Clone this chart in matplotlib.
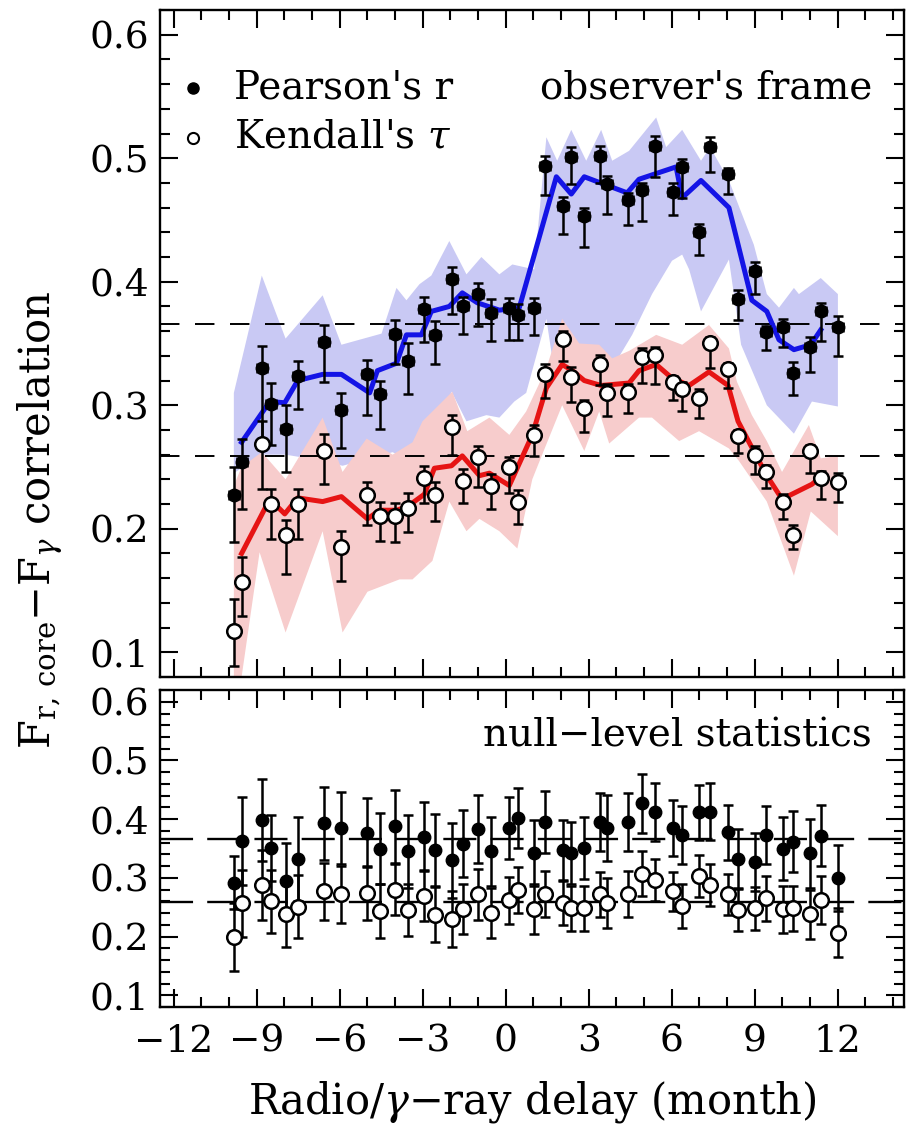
import numpy as np
import matplotlib
matplotlib.use('Agg')
import matplotlib.pyplot as plt
from matplotlib.ticker import MultipleLocator

plt.rcParams['font.family'] = ['DejaVu Serif']
plt.rcParams['mathtext.fontset'] = 'dejavuserif'

# delays (month), shared by both panels
delay = np.array([-9.83, -9.55, -8.82, -8.50, -7.96, -7.52, -6.58, -5.94, -5.00, -4.53,
                  -3.99, -3.55, -2.94, -2.54, -1.93, -1.53, -0.99, -0.52, 0.13, 0.45,
                  1.03, 1.43, 2.08, 2.37, 2.84, 3.42, 3.67, 4.43, 4.93, 5.40,
                  6.05, 6.38, 6.99, 7.39, 8.04, 8.40, 9.01, 9.41, 10.02, 10.38,
                  11.00, 11.39, 12.01])

# observer's frame, Pearson's r
pearson = np.array([0.227, 0.254, 0.330, 0.301, 0.281, 0.324, 0.351, 0.296, 0.325, 0.309,
                    0.358, 0.336, 0.378, 0.357, 0.402, 0.380, 0.390, 0.375, 0.379, 0.373,
                    0.379, 0.494, 0.461, 0.501, 0.453, 0.502, 0.479, 0.466, 0.474, 0.510,
                    0.473, 0.493, 0.440, 0.509, 0.487, 0.386, 0.409, 0.359, 0.363, 0.326,
                    0.347, 0.376, 0.363])
pearson_lo = np.array([0.038, 0.038, 0.062, 0.033, 0.035, 0.027, 0.032, 0.031, 0.033, 0.028,
                       0.025, 0.027, 0.027, 0.024, 0.028, 0.022, 0.026, 0.023, 0.026, 0.020,
                       0.022, 0.024, 0.022, 0.022, 0.025, 0.022, 0.024, 0.020, 0.025, 0.025,
                       0.019, 0.025, 0.018, 0.020, 0.016, 0.017, 0.019, 0.014, 0.016, 0.018,
                       0.020, 0.024, 0.023])
pearson_hi = np.array([0.023, 0.019, 0.018, 0.017, 0.019, 0.012, 0.014, 0.014, 0.012, 0.011,
                       0.011, 0.014, 0.010, 0.011, 0.010, 0.008, 0.009, 0.011, 0.008, 0.009,
                       0.008, 0.008, 0.008, 0.008, 0.007, 0.008, 0.007, 0.006, 0.006, 0.008,
                       0.007, 0.006, 0.007, 0.008, 0.005, 0.007, 0.007, 0.005, 0.007, 0.009,
                       0.008, 0.007, 0.009])

# observer's frame, Kendall's tau
kendall = np.array([0.117, 0.157, 0.269, 0.220, 0.195, 0.220, 0.263, 0.185, 0.227, 0.210,
                    0.210, 0.217, 0.241, 0.227, 0.282, 0.239, 0.258, 0.235, 0.250, 0.222,
                    0.276, 0.325, 0.354, 0.323, 0.298, 0.333, 0.310, 0.311, 0.339, 0.341,
                    0.319, 0.313, 0.306, 0.350, 0.329, 0.275, 0.260, 0.246, 0.222, 0.195,
                    0.263, 0.241, 0.238])
kendall_lo = np.array([0.028, 0.028, 0.037, 0.028, 0.032, 0.028, 0.027, 0.027, 0.024, 0.020,
                       0.021, 0.020, 0.020, 0.021, 0.022, 0.018, 0.024, 0.019, 0.021, 0.018,
                       0.017, 0.019, 0.018, 0.020, 0.020, 0.017, 0.019, 0.017, 0.021, 0.024,
                       0.015, 0.018, 0.016, 0.020, 0.015, 0.014, 0.016, 0.013, 0.014, 0.011,
                       0.018, 0.017, 0.016])
kendall_hi = np.array([0.026, 0.020, 0.018, 0.012, 0.012, 0.012, 0.014, 0.013, 0.011, 0.012,
                       0.011, 0.012, 0.010, 0.011, 0.010, 0.009, 0.009, 0.009, 0.008, 0.009,
                       0.008, 0.008, 0.006, 0.008, 0.006, 0.008, 0.007, 0.006, 0.007, 0.006,
                       0.005, 0.006, 0.007, 0.005, 0.005, 0.005, 0.007, 0.006, 0.006, 0.008,
                       0.005, 0.006, 0.007])

# running means
blue_x = [-9.55, -8.53, -7.99, -7.52, -6.62, -5.94, -4.92, -4.64, -3.95, -3.59, -3.05, -2.69,
          -2.04, -1.57, -1.03, -0.23, 0.49, 1.83, 2.37, 2.84, 3.67, 4.39, 4.82, 6.16, 6.38,
          7.06, 8.07, 8.90, 9.44, 9.88, 10.42, 11.03, 11.39]
blue_y = [0.270, 0.303, 0.302, 0.320, 0.325, 0.325, 0.310, 0.328, 0.334, 0.357, 0.357, 0.376,
          0.380, 0.391, 0.383, 0.377, 0.379, 0.485, 0.471, 0.485, 0.478, 0.472, 0.483, 0.493, 0.468,
          0.482, 0.460, 0.385, 0.376, 0.353, 0.345, 0.349, 0.361]
red_x = [-9.55, -8.53, -7.99, -7.52, -6.62, -5.94, -5.00, -4.56, -3.95, -3.55, -2.94, -2.58,
         -1.96, -1.57, -0.95, -0.59, 0.13, 0.96, 1.47, 2.04, 2.41, 2.84, 3.45, 4.46, 4.82,
         5.44, 6.01, 6.63, 7.35, 8.04, 8.40, 8.87, 9.44, 9.99, 11.07, 11.39]
red_y = [0.180, 0.224, 0.212, 0.225, 0.222, 0.226, 0.208, 0.215, 0.215, 0.218, 0.228, 0.249,
         0.251, 0.259, 0.243, 0.245, 0.235, 0.276, 0.314, 0.333, 0.328, 0.320, 0.316, 0.318, 0.328,
         0.333, 0.322, 0.316, 0.327, 0.316, 0.287, 0.267, 0.243, 0.224, 0.236, 0.242]

# spread bands
blue_up_x = [-9.83, -8.82, -7.96, -6.62, -5.94, -4.49, -3.95, -3.59, -3.12, -2.69, -2.04, -1.42,
             -0.88, -0.23, 0.24, 1.03, 1.47, 1.86, 2.37, 2.91, 3.45, 3.85, 4.46, 5.44, 5.80,
             6.38, 7.06, 7.39, 8.07, 8.97, 9.44, 9.88, 10.42, 10.60, 11.39, 12.01]
blue_up_y = [0.310, 0.405, 0.354, 0.389, 0.349, 0.358, 0.395, 0.385, 0.398, 0.405, 0.433, 0.406,
             0.420, 0.406, 0.414, 0.410, 0.517, 0.498, 0.523, 0.498, 0.523, 0.498, 0.506, 0.533, 0.509,
             0.523, 0.498, 0.509, 0.482, 0.430, 0.390, 0.379, 0.395, 0.390, 0.403, 0.390]
blue_lo_x = [-9.83, -8.82, -7.96, -6.62, -5.90, -4.09, -3.37, -2.94, -2.65, -1.96, -1.42, -0.70,
             -0.23, 0.31, 0.74, 1.47, 1.94, 2.37, 2.84, 3.45, 3.85, 4.57, 5.29, 6.01, 6.38,
             6.63, 7.06, 8.07, 8.51, 9.44, 10.42, 11.07, 12.01]
blue_lo_y = [0.245, 0.260, 0.260, 0.255, 0.251, 0.262, 0.254, 0.287, 0.267, 0.311, 0.287, 0.292,
             0.290, 0.303, 0.310, 0.370, 0.300, 0.340, 0.280, 0.310, 0.330, 0.357, 0.390, 0.417, 0.422,
             0.410, 0.376, 0.418, 0.349, 0.300, 0.277, 0.303, 0.299]
red_up_x = [-9.83, -9.55, -8.82, -7.96, -6.62, -5.90, -5.03, -4.09, -3.37, -3.01, -1.93, -1.39,
            -0.59, 0.13, 0.74, 1.47, 2.04, 2.66, 3.38, 3.85, 4.46, 5.44, 6.38, 7.35, 8.07,
            8.36, 8.90, 9.44, 9.99, 10.96, 11.39, 12.01]
red_up_y = [0.235, 0.250, 0.262, 0.240, 0.290, 0.246, 0.273, 0.260, 0.270, 0.287, 0.311, 0.279,
            0.290, 0.276, 0.295, 0.330, 0.370, 0.350, 0.349, 0.338, 0.344, 0.357, 0.349, 0.365, 0.346,
            0.319, 0.292, 0.271, 0.246, 0.284, 0.257, 0.259]
red_lo_x = [-9.83, -9.55, -8.90, -7.96, -6.62, -5.90, -5.00, -3.84, -3.37, -2.65, -2.04, -1.42,
            -0.95, -0.23, 0.42, 0.96, 1.21, 2.04, 2.84, 3.38, 3.74, 4.82, 5.29, 6.27, 6.99,
            8.07, 8.43, 9.44, 10.42, 11.03, 12.01]
red_lo_y = [0.070, 0.080, 0.181, 0.116, 0.198, 0.116, 0.149, 0.159, 0.159, 0.174, 0.222, 0.198,
            0.208, 0.198, 0.184, 0.240, 0.254, 0.300, 0.263, 0.295, 0.269, 0.290, 0.290, 0.271, 0.279,
            0.265, 0.255, 0.222, 0.162, 0.214, 0.194]

# null-level statistics
null_pearson = np.array([0.292, 0.363, 0.398, 0.351, 0.295, 0.332, 0.393, 0.385, 0.377, 0.350,
                         0.388, 0.345, 0.370, 0.348, 0.330, 0.358, 0.383, 0.345, 0.385, 0.402,
                         0.342, 0.395, 0.347, 0.343, 0.351, 0.395, 0.385, 0.395, 0.427, 0.412,
                         0.385, 0.373, 0.412, 0.413, 0.378, 0.333, 0.327, 0.373, 0.350, 0.362,
                         0.342, 0.372, 0.300])
null_pearson_err = np.array([0.045, 0.075, 0.070, 0.057, 0.064, 0.071, 0.062, 0.062, 0.059, 0.061,
                             0.062, 0.062, 0.059, 0.061, 0.064, 0.057, 0.058, 0.058, 0.053, 0.051,
                             0.056, 0.053, 0.051, 0.053, 0.053, 0.050, 0.056, 0.049, 0.050, 0.049,
                             0.047, 0.050, 0.047, 0.049, 0.047, 0.050, 0.050, 0.049, 0.053, 0.052,
                             0.059, 0.052, 0.056])
null_kendall = np.array([0.200, 0.257, 0.288, 0.260, 0.238, 0.251, 0.277, 0.272, 0.275, 0.243,
                         0.280, 0.245, 0.270, 0.237, 0.230, 0.247, 0.272, 0.240, 0.262, 0.280,
                         0.247, 0.273, 0.257, 0.248, 0.248, 0.272, 0.257, 0.272, 0.307, 0.297,
                         0.277, 0.252, 0.303, 0.288, 0.272, 0.245, 0.248, 0.265, 0.247, 0.248,
                         0.238, 0.263, 0.207])
null_kendall_err = np.array([0.058, 0.057, 0.060, 0.053, 0.056, 0.054, 0.049, 0.049, 0.046, 0.046,
                             0.044, 0.044, 0.043, 0.047, 0.047, 0.043, 0.044, 0.042, 0.040, 0.039,
                             0.042, 0.039, 0.038, 0.039, 0.039, 0.038, 0.042, 0.039, 0.038, 0.036,
                             0.033, 0.038, 0.036, 0.036, 0.035, 0.036, 0.036, 0.038, 0.040, 0.039,
                             0.042, 0.041, 0.041])

null_r = 0.366
null_tau = 0.259

fig = plt.figure(figsize=(9.06, 11.29), dpi=100)
ax1 = fig.add_axes([0.1766, 0.4004, 0.8212, 0.5907])
ax2 = fig.add_axes([0.1766, 0.1080, 0.8212, 0.2808])

blue = '#1414e6'
red = '#e61414'

def style_axes(ax):
    ax.set_xlim(-12.5, 14.4)
    ax.set_ylim(0.08, 0.62)
    ax.xaxis.set_major_locator(MultipleLocator(3))
    ax.xaxis.set_minor_locator(MultipleLocator(1))
    ax.yaxis.set_major_locator(MultipleLocator(0.1))
    ax.yaxis.set_minor_locator(MultipleLocator(0.02))
    ax.tick_params(which='both', direction='in', top=True, right=True, width=1.5,
                   labelsize=27)
    ax.tick_params(axis='y', pad=8)
    ax.tick_params(axis='x', pad=12)
    ax.tick_params(which='major', length=13)
    ax.tick_params(which='minor', length=7)
    for s in ax.spines.values():
        s.set_linewidth(1.7)

# top panel
ax1.fill(np.concatenate([blue_up_x, blue_lo_x[::-1]]),
         np.concatenate([blue_up_y, blue_lo_y[::-1]]),
         color='#c9c9f4', lw=0, zorder=1)
ax1.fill(np.concatenate([red_up_x, red_lo_x[::-1]]),
         np.concatenate([red_up_y, red_lo_y[::-1]]),
         color='#f7cccc', lw=0, zorder=1.5)
for v in (null_r, null_tau):
    ax1.axhline(v, color='k', lw=1.4, dashes=(10, 8), zorder=2)
ax1.plot(blue_x, blue_y, color=blue, lw=3.6, zorder=3)
ax1.plot(red_x, red_y, color=red, lw=3.6, zorder=3)
ax1.errorbar(delay, pearson, yerr=[pearson_lo, pearson_hi], xerr=0.18, fmt='o',
             ms=9, mfc='k', mec='k', ecolor='k', elinewidth=1.8, capsize=3.8,
             capthick=1.8, zorder=4)
ax1.errorbar(delay, kendall, yerr=[kendall_lo, kendall_hi], xerr=0.12, fmt='o',
             ms=10.5, mfc='white', mec='k', mew=1.8, ecolor='k', elinewidth=1.8,
             capsize=3.8, capthick=1.8, zorder=4)
style_axes(ax1)
ax1.tick_params(labelbottom=False)

ax1.plot([0.044], [0.883], 'o', color='k', ms=8, transform=ax1.transAxes)
ax1.plot([0.044], [0.808], 'o', mfc='white', mec='k', mew=1.5, ms=8,
         transform=ax1.transAxes)
ax1.text(0.1, 0.883, "Pearson's r", transform=ax1.transAxes, fontsize=28,
         va='center', ha='left')
ax1.text(0.1, 0.808, "Kendall's $\\tau$", transform=ax1.transAxes, fontsize=28,
         va='center', ha='left')
ax1.text(0.957, 0.883, "observer's frame", transform=ax1.transAxes, fontsize=28,
         va='center', ha='right')

# bottom panel
for v in (null_r, null_tau):
    ax2.axhline(v, color='k', lw=1.7, dashes=(14, 6), zorder=2)
ax2.errorbar(delay, null_pearson, yerr=null_pearson_err, fmt='o', ms=9,
             mfc='k', mec='k', ecolor='k', elinewidth=1.8, capsize=3.8,
             capthick=1.8, zorder=4)
ax2.errorbar(delay, null_kendall, yerr=null_kendall_err, fmt='o', ms=10.5,
             mfc='white', mec='k', mew=1.8, ecolor='k', elinewidth=1.8,
             capsize=3.8, capthick=1.8, zorder=4)
style_axes(ax2)
ax2.text(0.957, 0.854, 'null\u2212level statistics', transform=ax2.transAxes,
         fontsize=28, va='center', ha='right')
ax2.set_xlabel('Radio/$\\gamma$\u2212ray delay (month)', fontsize=30, labelpad=14)

fig.text(0.045, 0.54, 'F$_{\\rm r,\\,core}$\u2212F$_{\\gamma}$ correlation',
         rotation=90, fontsize=30, ha='center', va='center')

fig.savefig('out.png', dpi=100)
